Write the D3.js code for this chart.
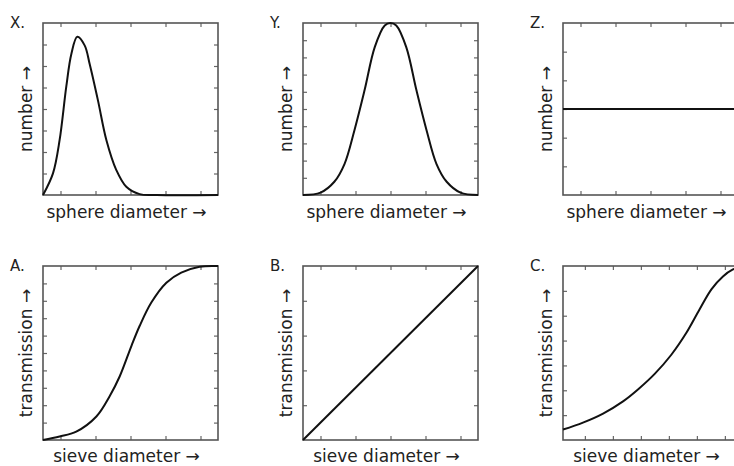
<!DOCTYPE html>
<html lang="en">
<head>
<meta charset="UTF-8">
<script src="https://d3js.org/d3.v7.min.js"></script>
<title>sieve</title>
<style>
  body { margin: 0; background: #fff; }
  text { font-family: "DejaVu Sans", sans-serif; fill: #222; }
</style>
</head>
<body>
<svg id="chart" width="734" height="466"></svg>
<script>
// panel letters and axis labels
var panelNames = ['X.', 'Y.', 'Z.', 'A.', 'B.', 'C.'];
var yLabels = ['number \u2192', 'number \u2192', 'number \u2192', 'transmission \u2192', 'transmission \u2192', 'transmission \u2192'];
var xLabels = ['sphere diameter \u2192', 'sphere diameter \u2192', 'sphere diameter \u2192', 'sieve diameter \u2192', 'sieve diameter \u2192', 'sieve diameter \u2192'];

// curves (x and y both 0..1)
var xsX = [0, 0.057, 0.095, 0.133, 0.162, 0.196, 0.238, 0.267, 0.314, 0.362, 0.419, 0.476, 0.552, 0.65, 1];
var ysX = [0, 0.126, 0.32, 0.63, 0.82, 0.92, 0.87, 0.76, 0.55, 0.32, 0.145, 0.048, 0.005, 0, 0];

var xsY = [0, 0.1, 0.179, 0.237, 0.294, 0.352, 0.41, 0.467, 0.5, 0.533, 0.59, 0.648, 0.706, 0.763, 0.821, 0.9, 1];
var ysY = [0, 0.014, 0.077, 0.18, 0.377, 0.61, 0.86, 0.986, 1, 0.986, 0.86, 0.61, 0.377, 0.18, 0.077, 0.014, 0];

var xsZ = [0, 1];
var ysZ = [0.5, 0.5];

var xsA = [0, 0.095, 0.19, 0.305, 0.38, 0.438, 0.505, 0.552, 0.619, 0.705, 0.79, 0.895, 1];
var ysA = [0, 0.02, 0.048, 0.135, 0.25, 0.365, 0.54, 0.655, 0.79, 0.904, 0.962, 0.996, 1];

var xsB = [0, 1];
var ysB = [0, 1];

var xsC = [0, 0.114, 0.229, 0.343, 0.43, 0.524, 0.619, 0.705, 0.78, 0.848, 0.914, 0.971, 1];
var ysC = [0.06, 0.1, 0.152, 0.222, 0.292, 0.38, 0.49, 0.616, 0.75, 0.866, 0.94, 0.98, 0.99];

// tick values per panel
var xTicksStd = [0.1, 0.3, 0.5, 0.7, 0.9];
var xTicksC = [0.125, 0.285, 0.445, 0.605, 0.765, 0.925];
var yTicksX = [1, 2, 3, 4, 5, 6, 7].map(function(d) { return d / 8; });
var yTicksY = [1, 2, 3, 4, 5, 6, 7, 8, 9].map(function(d) { return d / 10; });
var yTicksZ = [1, 2, 3, 4, 5].map(function(d) { return d / 6; });
var yTicksA = [1, 2, 3, 4, 5, 6, 7, 8, 9].map(function(d) { return d / 10; });
var yTicksB = [0.2, 0.4, 0.6, 0.8];
var yTicksC = [1, 2, 3, 4, 5, 6].map(function(d) { return d / 7; });

var curvesX = [xsX, xsY, xsZ, xsA, xsB, xsC];
var curvesY = [ysX, ysY, ysZ, ysA, ysB, ysC];
var xTickSets = [xTicksStd, xTicksStd, xTicksStd, xTicksStd, xTicksStd, xTicksC];
var yTickSets = [yTicksX, yTicksY, yTicksZ, yTicksA, yTicksB, yTicksC];

var svg = d3.select('#chart');
var colLeft = [43, 303, 563];
var rowTop = [23, 266];
var rowH = [172, 174];
var boxW = 175;
var tickLen = 4;

panelNames.forEach(function(name, i) {
    var col = i % 3, row = Math.floor(i / 3);
    var x0 = colLeft[col], y0 = rowTop[row], h = rowH[row];
    var g = svg.append('g').attr('transform', 'translate(' + x0 + ',' + y0 + ')');

    var x = d3.scaleLinear().domain([0, 1]).range([0, boxW]);
    var y = d3.scaleLinear().domain([0, 1]).range([h, 0]);

    // inward ticks on all four sides
    g.append('g').attr('transform', 'translate(0,' + h + ')')
        .call(d3.axisBottom(x).tickValues(xTickSets[i]).tickSize(-tickLen).tickFormat(''));
    g.append('g')
        .call(d3.axisTop(x).tickValues(xTickSets[i]).tickSize(-tickLen).tickFormat(''));
    g.append('g')
        .call(d3.axisLeft(y).tickValues(yTickSets[i]).tickSize(-tickLen).tickFormat(''));
    g.append('g').attr('transform', 'translate(' + boxW + ',0)')
        .call(d3.axisRight(y).tickValues(yTickSets[i]).tickSize(-tickLen).tickFormat(''));
    g.selectAll('.domain').remove();
    g.selectAll('.tick line').attr('stroke', '#666').attr('stroke-width', 1.2);

    g.append('rect')
        .attr('width', boxW).attr('height', h)
        .attr('fill', 'none').attr('stroke', '#555').attr('stroke-width', 1.6);

    var pts = curvesX[i].map(function(v, k) { return [v, curvesY[i][k]]; });
    var line = d3.line()
        .x(function(d) { return x(d[0]); })
        .y(function(d) { return y(d[1]); })
        .curve(d3.curveCatmullRom.alpha(0.5));
    g.append('path').datum(pts)
        .attr('d', line)
        .attr('fill', 'none').attr('stroke', '#111').attr('stroke-width', 2);

    // panel letter
    g.append('text')
        .attr('x', -33).attr('y', 5)
        .style('font-size', '15px')
        .text(name);

    // y label, rotated
    g.append('text')
        .attr('transform', 'translate(-11,' + (h / 2) + ') rotate(-90)')
        .attr('text-anchor', 'middle')
        .style('font-size', '17px')
        .text(yLabels[i]);

    // x label
    g.append('text')
        .attr('x', boxW / 2 - 4).attr('y', h + (row === 0 ? 23 : 22))
        .attr('text-anchor', 'middle')
        .style('font-size', '17px')
        .text(xLabels[i]);
});
</script>
</body>
</html>
